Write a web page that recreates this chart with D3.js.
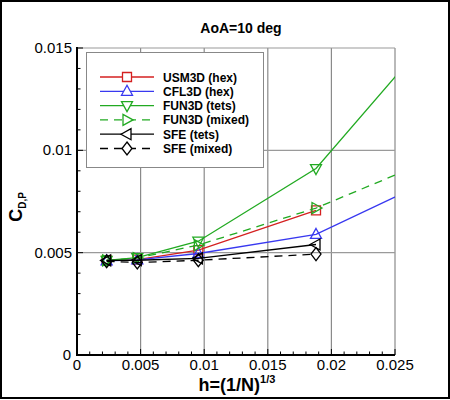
<!DOCTYPE html>
<html>
<head>
<meta charset="utf-8">
<script src="https://cdn.jsdelivr.net/npm/d3@7"></script>
<style>
  body { margin: 0; background: #fff; }
  svg { display: block; font-family: "Liberation Sans", Arial, sans-serif; }
</style>
</head>
<body>
<svg id="chart" width="450" height="400"></svg>
<script>
// grid size parameter h for each mesh level (last one is off the plot, lines get clipped)
const hValues = [0.00233, 0.00474, 0.00954, 0.01879, 0.0375];

const usm3dHex = [0.00462, 0.00466, 0.00512, 0.00707];
const cfl3dHex = [0.00460, 0.00465, 0.00496, 0.00589, 0.01141];
const fun3dTets = [0.00462, 0.00476, 0.00556, 0.00911, 0.02258];
const fun3dMixed = [0.00462, 0.00474, 0.00537, 0.00718, 0.01203];
const sfeTets = [0.00462, 0.00463, 0.00472, 0.00540];
const sfeMixed = [0.00458, 0.00452, 0.00463, 0.00493];

const seriesNames = ['USM3D (hex)', 'CFL3D (hex)', 'FUN3D (tets)', 'FUN3D (mixed)', 'SFE (tets)', 'SFE (mixed)'];
const xTicks = [0, 0.005, 0.01, 0.015, 0.02, 0.025];
const yTicks = [0, 0.005, 0.01, 0.015];

const series = [
  { name: seriesNames[0], values: usm3dHex, color: '#d42020', dash: null, marker: 'square' },
  { name: seriesNames[1], values: cfl3dHex, color: '#3838f0', dash: null, marker: 'up' },
  { name: seriesNames[2], values: fun3dTets, color: '#22aa22', dash: null, marker: 'down' },
  { name: seriesNames[3], values: fun3dMixed, color: '#22aa22', dash: '8,6', marker: 'right' },
  { name: seriesNames[4], values: sfeTets, color: '#000', dash: null, marker: 'left' },
  { name: seriesNames[5], values: sfeMixed, color: '#000', dash: '8,6', marker: 'diamond' }
];

const markerPath = (type) => {
  switch (type) {
    case 'square': return 'M-4.5,-4.5h9v9h-9Z';
    case 'up': return 'M0,-6L5.5,4L-5.5,4Z';
    case 'down': return 'M0,6L5.5,-4L-5.5,-4Z';
    case 'right': return 'M6,0L-4,-5.5L-4,5.5Z';
    case 'left': return 'M-6,0L4,-5.5L4,5.5Z';
    default: return 'M0,-6.5L5,0L0,6.5L-5,0Z';
  }
};

const plotLeft = 77, plotRight = 395, plotTop = 48, plotBottom = 355;

const x = d3.scaleLinear().domain([0, 0.025]).range([plotLeft, plotRight]);
const y = d3.scaleLinear().domain([0, 0.015]).range([plotBottom, plotTop]);

const svg = d3.select('#chart');

// outer frame
svg.append('rect')
  .attr('x', 1).attr('y', 1).attr('width', 448).attr('height', 397)
  .attr('fill', 'none').attr('stroke', '#000').attr('stroke-width', 2);

svg.append('defs').append('clipPath').attr('id', 'plotClip')
  .append('rect').attr('x', plotLeft).attr('y', plotTop)
  .attr('width', plotRight - plotLeft).attr('height', plotBottom - plotTop);

// grid lines
svg.append('g').selectAll('line').data(xTicks.slice(1)).join('line')
  .attr('x1', d => x(d)).attr('x2', d => x(d))
  .attr('y1', plotTop).attr('y2', plotBottom)
  .attr('stroke', '#8a8a8a').attr('stroke-width', 1.2);
svg.append('g').selectAll('line').data(yTicks.slice(1)).join('line')
  .attr('x1', plotLeft).attr('x2', plotRight)
  .attr('y1', d => y(d)).attr('y2', d => y(d))
  .attr('stroke', '#9a9a9a').attr('stroke-width', 1.2);

// minor ticks, pointing inward
const xMinor = d3.range(0, 0.02501, 0.001);
const yMinor = d3.range(0, 0.01501, 0.001);
const isMajor = d => Math.round(d * 1e6) % 5000 === 0;
svg.append('g').selectAll('line').data(xMinor).join('line')
  .attr('x1', d => x(d)).attr('x2', d => x(d))
  .attr('y1', plotBottom).attr('y2', d => (isMajor(d) ? plotBottom - 6 : plotBottom - 3.5))
  .attr('stroke', '#000').attr('stroke-width', 1);
svg.append('g').selectAll('line').data(yMinor).join('line')
  .attr('y1', d => y(d)).attr('y2', d => y(d))
  .attr('x1', plotLeft).attr('x2', d => (isMajor(d) ? plotLeft + 6 : plotLeft + 3.5))
  .attr('stroke', '#000').attr('stroke-width', 1);

// axis lines
svg.append('line').attr('x1', plotLeft).attr('x2', plotLeft).attr('y1', plotTop - 1).attr('y2', plotBottom + 1)
  .attr('stroke', '#000').attr('stroke-width', 2);
svg.append('line').attr('x1', plotLeft - 1).attr('x2', plotRight).attr('y1', plotBottom).attr('y2', plotBottom)
  .attr('stroke', '#000').attr('stroke-width', 2);

// tick labels
const fmt = d => (d === 0 ? '0' : String(+d.toFixed(3)));
svg.append('g').selectAll('text').data(xTicks).join('text')
  .attr('x', d => x(d)).attr('y', 370)
  .attr('text-anchor', 'middle').attr('font-size', 15)
  .text(fmt);
svg.append('g').selectAll('text').data(yTicks).join('text')
  .attr('x', d => (d === 0 ? 71 : 72)).attr('y', d => y(d) + 5)
  .attr('text-anchor', 'end').attr('font-size', 15)
  .text(fmt);

// series lines and markers
const plot = svg.append('g').attr('clip-path', 'url(#plotClip)');
series.forEach(s => {
  const pts = s.values.map((v, i) => [hValues[i], v]);
  plot.append('path')
    .datum(pts)
    .attr('d', d3.line().x(d => x(d[0])).y(d => y(d[1])))
    .attr('fill', 'none')
    .attr('stroke', s.color)
    .attr('stroke-width', 1.3)
    .attr('stroke-dasharray', s.dash);
  plot.append('g').selectAll('path').data(pts).join('path')
    .attr('transform', d => `translate(${x(d[0])},${y(d[1])})`)
    .attr('d', markerPath(s.marker))
    .attr('fill', 'none')
    .attr('stroke', s.color)
    .attr('stroke-width', 1.3);
});

// legend
const legend = svg.append('g');
legend.append('rect')
  .attr('x', 86.5).attr('y', 52.5).attr('width', 177).attr('height', 115)
  .attr('fill', '#fff').attr('stroke', '#888').attr('stroke-width', 1);
series.forEach((s, i) => {
  const ly = 77 + i * 14.3;
  legend.append('line')
    .attr('x1', 100).attr('x2', 154).attr('y1', ly).attr('y2', ly)
    .attr('stroke', s.color).attr('stroke-width', 1.3)
    .attr('stroke-dasharray', s.dash);
  legend.append('path')
    .attr('transform', `translate(127,${ly})`)
    .attr('d', markerPath(s.marker))
    .attr('fill', '#fff')
    .attr('stroke', s.color).attr('stroke-width', 1.3);
  legend.append('text')
    .attr('x', 163).attr('y', ly + 4.5)
    .attr('font-size', 12).attr('font-weight', 'bold')
    .text(s.name);
});

// titles
svg.append('text')
  .attr('x', 241).attr('y', 33)
  .attr('text-anchor', 'middle').attr('font-size', 14).attr('font-weight', 'bold')
  .text('AoA=10 deg');

const xTitle = svg.append('text')
  .attr('x', 237).attr('y', 391)
  .attr('text-anchor', 'middle').attr('font-size', 18).attr('font-weight', 'bold');
xTitle.append('tspan').text('h=(1/N)');
xTitle.append('tspan').attr('font-size', 11).attr('dy', -8).text('1/3');

const yTitle = svg.append('text')
  .attr('transform', 'translate(22,207) rotate(-90)')
  .attr('text-anchor', 'middle').attr('font-size', 18).attr('font-weight', 'bold');
yTitle.append('tspan').text('C');
yTitle.append('tspan').attr('font-size', 10).attr('dy', 4).text('D,P');
</script>
</body>
</html>
